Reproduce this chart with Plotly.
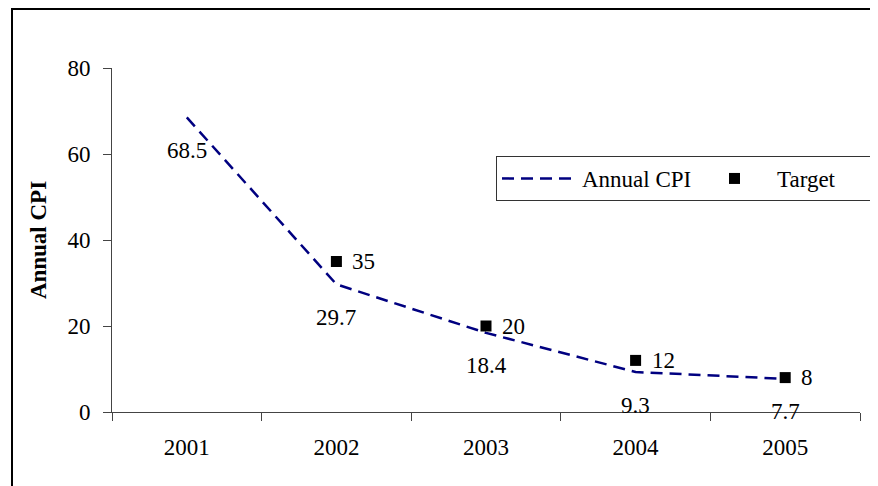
import plotly.graph_objects as go

years = ["2001", "2002", "2003", "2004", "2005"]
annual_cpi = [68.5, 29.7, 18.4, 9.3, 7.7]
target_years = ["2002", "2003", "2004", "2005"]
target = [35, 20, 12, 8]
y_ticks = [0, 20, 40, 60, 80]

FONT = "Liberation Serif, Times New Roman, serif"
FS = 23

fig = go.Figure()
fig.add_trace(go.Scatter(
    x=years, y=annual_cpi, mode="lines", name="Annual CPI",
    line=dict(color="#000080", width=2.5, dash="12px,7px"),
))
fig.add_trace(go.Scatter(
    x=target_years, y=target, mode="markers", name="Target",
    marker=dict(symbol="square", size=11, color="black"),
))

annotations = []
for x, v in zip(years, annual_cpi):
    annotations.append(dict(x=years.index(x), y=v, xref="x", yref="y", text=str(v), showarrow=False,
                            yshift=-33, font=dict(family=FONT, size=FS, color="black")))
for x, v in zip(target_years, target):
    annotations.append(dict(x=years.index(x), y=v, xref="x", yref="y", text=str(v), showarrow=False,
                            xanchor="left", xshift=14,
                            font=dict(family=FONT, size=FS, color="black")))

# page has an 8px body margin: the figure starts at page (8, 8)
OFF = 8
W, H = 878 - OFF, 486 - OFF
L, T = 112 - OFF, 68 - OFF
pw, ph = 748, 344
R, B = W - L - pw, H - T - ph

def px_x(p):
    return (p - OFF - L) / pw

def px_y(p):
    return (T + ph - (p - OFF)) / ph

fig.update_layout(
    width=W, height=H,
    margin=dict(l=L, r=R, t=T, b=B, autoexpand=False),
    paper_bgcolor="white", plot_bgcolor="white",
    font=dict(family=FONT, size=FS, color="black"),
    showlegend=True,
    legend=dict(
        orientation="h", x=px_x(496), y=px_y(156), xanchor="left", yanchor="top",
        bordercolor="#333333", borderwidth=1, bgcolor="white",
        font=dict(family=FONT, size=FS, color="black"),
        itemwidth=75, entrywidth=105,
    ),
    annotations=annotations,
    shapes=[dict(type="rect", xref="paper", yref="paper",
                 x0=px_x(12), x1=px_x(884), y0=px_y(496), y1=px_y(9),
                 line=dict(color="black", width=2))],
)
fig.update_xaxes(
    type="category", range=[-0.5, 4.5],
    showline=True, linecolor="#444444", linewidth=1,
    ticks="outside", ticklen=8, tickcolor="#444444", tickson="boundaries",
    ticklabelstandoff=14,
    showgrid=False, zeroline=False,
    tickfont=dict(family=FONT, size=FS, color="black"),
)
fig.update_yaxes(
    range=[0, 80], tickvals=y_ticks,
    showline=True, linecolor="#444444", linewidth=1,
    ticks="outside", ticklen=8, tickcolor="#444444",
    ticklabelstandoff=8,
    showgrid=False, zeroline=False,
    tickfont=dict(family=FONT, size=FS, color="black"),
    title=dict(text="<b>Annual CPI</b>", font=dict(family=FONT, size=FS, color="black"), standoff=14),
)

fig.write_html("out.html")
